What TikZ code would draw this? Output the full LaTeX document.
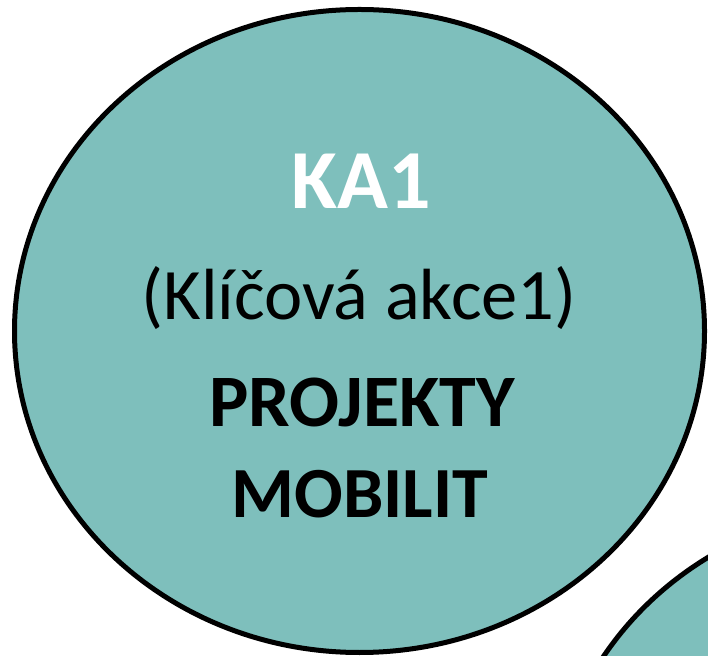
\documentclass[tikz,border=0pt]{standalone}
\usepackage{fontspec}
\setmainfont{Carlito}
\definecolor{tealfill}{HTML}{7EBFBC}
\begin{document}
\begin{tikzpicture}[x=1pt,y=1pt,
  blob/.style={fill=tealfill,draw=black,line width=5pt},
  lbl/.style={anchor=base,inner sep=0pt}]
\useasboundingbox (0,0) rectangle (708,655);
\clip (0,0) rectangle (708,655);
\draw[blob] (359.5,324) ellipse [x radius=345, y radius=321.5];
\draw[blob] (896,-172) ellipse [x radius=345, y radius=321.5];
\node[lbl,text=white,font=\fontsize{84}{90}\selectfont\bfseries] (ka) at (361,446) {KA1};
\node[lbl,font=\fontsize{72.5}{80}\selectfont] (ka1) at (359,335) {(Klíčová akce1)};
\node[lbl,font=\fontsize{74}{80}\selectfont\bfseries] (proj) at (362,228) {PROJEKTY};
\node[lbl,font=\fontsize{72}{80}\selectfont\bfseries] (mob) at (360,137) {MOBILIT};
\end{tikzpicture}
\end{document}
